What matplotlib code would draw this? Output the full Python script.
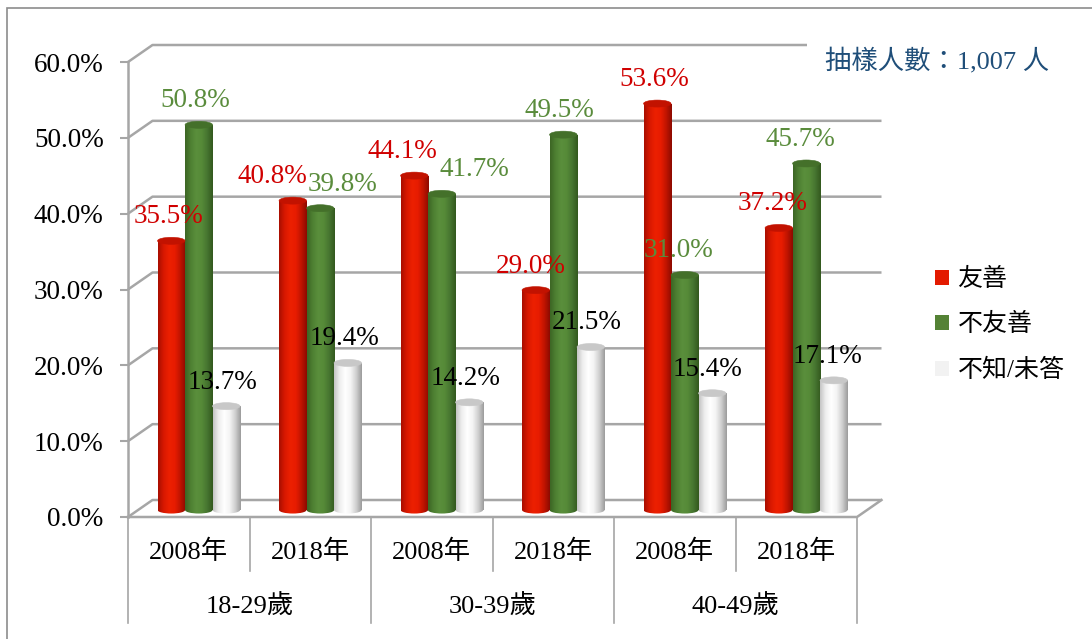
import numpy as np
import matplotlib.pyplot as plt
from matplotlib.colors import LinearSegmentedColormap
from matplotlib.patches import Ellipse, Rectangle

years = ["2008年", "2018年", "2008年", "2018年", "2008年", "2018年"]
age_groups = ["18-29歲", "30-39歲", "40-49歲"]
series_names = ["友善", "不友善", "不知/未答"]
friendly = [35.5, 40.8, 44.1, 29.0, 53.6, 37.2]
unfriendly = [50.8, 39.8, 41.7, 49.5, 31.0, 45.7]
unknown = [13.7, 19.4, 14.2, 21.5, 15.4, 17.1]
sample_note = "抽樣人數：1,007 人"

plt.rcParams['font.family'] = ['Liberation Serif', 'Noto Sans CJK TC']

W, H = 1092, 639
fig = plt.figure(figsize=(W / 100, H / 100), dpi=100)
ax = fig.add_axes([128 / W, 1 - 517 / H, 729 / W, 455 / H])

# pixel -> data unit helpers
px_x = 6 / 729
px_y = 60 / 455
DX, DY = 24.5 * px_x, 17 * px_y      # depth of the 3d box
depth = 0.41                          # where the cylinders stand
bw = 27.5 * px_x
eh = 7 * px_y
base = depth * DY
grid_c = '#A6A6A6'

x = np.arange(len(years))

# walls + floor
for v in range(0, 61, 10):
    ax.plot([-0.5, -0.5 + DX, 5.5 + DX], [v, v + DY, v + DY], color=grid_c,
            lw=1.8, clip_on=False, zorder=1, solid_capstyle='butt')
ax.plot([-0.5, 5.5, 5.5 + DX], [0, 0, DY], color=grid_c, lw=1.8, clip_on=False, zorder=1)

# category table below the floor
for k in range(7):
    bottom = -14.0 if k % 2 == 0 else -7.1
    ax.plot([k - 0.5, k - 0.5], [0, bottom], color=grid_c, lw=1.2, clip_on=False, zorder=1)
for i, yr in enumerate(years):
    ax.text(i, -4.6, yr, ha='center', va='center', fontsize=19)
for g, ag in enumerate(age_groups):
    ax.text(2 * g + 0.5, -11.9, ag, ha='center', va='center', fontsize=19)

cmaps = [
    LinearSegmentedColormap.from_list('r', ['#A80E00', '#D81800', '#EC2000', '#E81C00', '#C01400', '#8C0A00']),
    LinearSegmentedColormap.from_list('g', ['#3C6524', '#4E8032', '#5A8F3C', '#568A38', '#467530', '#33581E']),
    LinearSegmentedColormap.from_list('w', ['#C4C4C4', '#EEEEEE', '#FFFFFF', '#F4F4F4', '#CFCFCF', '#9C9C9C']),
]
main_c = ['#E31A00', '#548235', '#F2F2F2']
top_c = ['#C21200', '#44702A', '#C8C8C8']
label_c = ['#D00000', '#5A8C3C', '#000000']
# label nudges in pixels (Excel shifted a few to avoid collisions)
nudge = [[-3, -20, -12, -5, -3, -6],
         [-4, 22, 33, -4, -6, -6],
         [-4, -3, -4, -4, -5, -6]]

grad = np.linspace(0, 1, 128)[None, :]
for j, vals in enumerate([friendly, unfriendly, unknown]):
    pos = x + (j - 1) * bw + depth * DX
    bars = ax.bar(pos, vals, width=bw, bottom=base, color=main_c[j],
                  label=series_names[j], zorder=3, linewidth=0)
    for k, (b, v) in enumerate(zip(bars, vals)):
        x0 = b.get_x()
        top = b.get_y() + b.get_height()
        xc = x0 + bw / 2
        im = ax.imshow(grad, cmap=cmaps[j], extent=[x0, x0 + bw, base, top],
                       aspect='auto', zorder=3.1, interpolation='bilinear')
        im.set_clip_path(b)
        e = Ellipse((xc, base), bw, eh, transform=ax.transData)
        im2 = ax.imshow(grad, cmap=cmaps[j], extent=[x0, x0 + bw, base - eh, base + eh],
                        aspect='auto', zorder=3.1, interpolation='bilinear')
        im2.set_clip_path(e)
        ax.add_patch(Ellipse((xc, top), bw, eh, facecolor=top_c[j],
                             edgecolor=top_c[j], lw=0.4, zorder=3.2))
        ax.text(xc + nudge[j][k] * px_x, top + 24 * px_y, f"{v:.1f}%",
                ha='center', va='center', color=label_c[j], fontsize=19.5, zorder=5)

ax.set_xlim(-0.5, 5.5)
ax.set_ylim(0, 60)
ax.set_aspect('auto')
ax.set_xticks([])
ax.set_yticks(np.arange(0, 61, 10))
ax.set_yticklabels([f"{v:.1f}%" for v in range(0, 61, 10)])
ax.tick_params(axis='y', length=5.5, width=1.5, color=grid_c, pad=12, labelsize=19.5)
for s in ['top', 'right', 'bottom']:
    ax.spines[s].set_visible(False)
ax.spines['left'].set_color(grid_c)
ax.spines['left'].set_linewidth(1.8)
ax.patch.set_alpha(0)

fig.text(825 / W, 1 - 60 / H, sample_note, color='#1F4E79', fontsize=19,
         ha='left', va='center',
         bbox=dict(facecolor='white', edgecolor='none', pad=13))

h, l = ax.get_legend_handles_labels()
fig.legend(h, l, loc='center left', bbox_to_anchor=(935 / W, 1 - 325 / H),
           frameon=False, fontsize=18, handlelength=0.55, handleheight=0.55,
           handletextpad=0.35, labelspacing=0.9, borderpad=0, borderaxespad=0)

fig.patches.append(Rectangle((7 / W, -0.05), 1.0, 1 - 8 / H + 0.05, transform=fig.transFigure,
                             fill=False, edgecolor='#8C8C8C', lw=1.2))

fig.savefig('out.png', dpi=100)
